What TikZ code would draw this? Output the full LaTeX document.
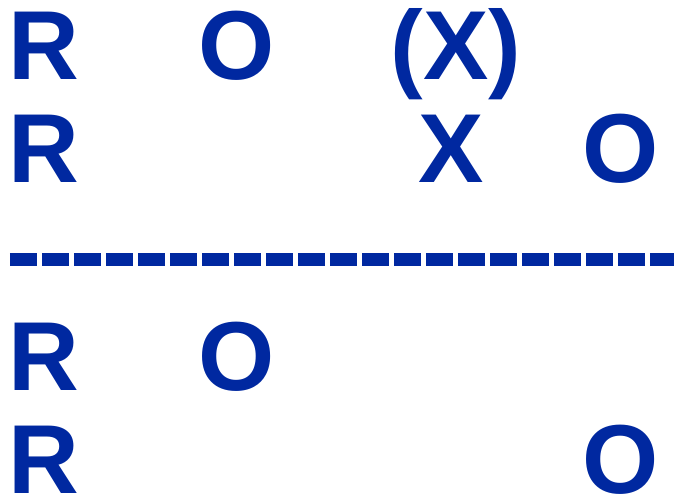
\documentclass[tikz,border=0pt]{standalone}
\usepackage{fontspec}
\setmainfont{Liberation Sans}
\definecolor{inkblue}{RGB}{0,40,160}
\begin{document}
\begin{tikzpicture}[x=1pt,y=1pt,
  glyph/.style={inner sep=0pt, outer sep=0pt, anchor=base, text=inkblue, font=\fontsize{98}{98}\selectfont\bfseries}]
\useasboundingbox (0,0) rectangle (674,496);
% row 1
\node[glyph] (r1) at (43.5,416) {R};
\node[glyph] (o1) at (237,416) {O};
\node[glyph] (x1) at (456,416) {(X)};
% row 2
\node[glyph] (r2) at (43.5,313) {R};
\node[glyph] (x2) at (451,313) {X};
\node[glyph] (o2) at (621,313) {O};
% separator
\coordinate (sepL) at (9.9,236.5);
\coordinate (sepR) at (674,236.5);
\draw[draw=inkblue, line width=13.3pt, dash pattern=on 27.1pt off 4.9pt] (sepL) -- (sepR);
% row 3
\node[glyph] (r3) at (43.5,106) {R};
\node[glyph] (o3) at (237,106) {O};
% row 4
\node[glyph] (r4) at (43.5,3) {R};
\node[glyph] (o4) at (621,3) {O};
\end{tikzpicture}
\end{document}
